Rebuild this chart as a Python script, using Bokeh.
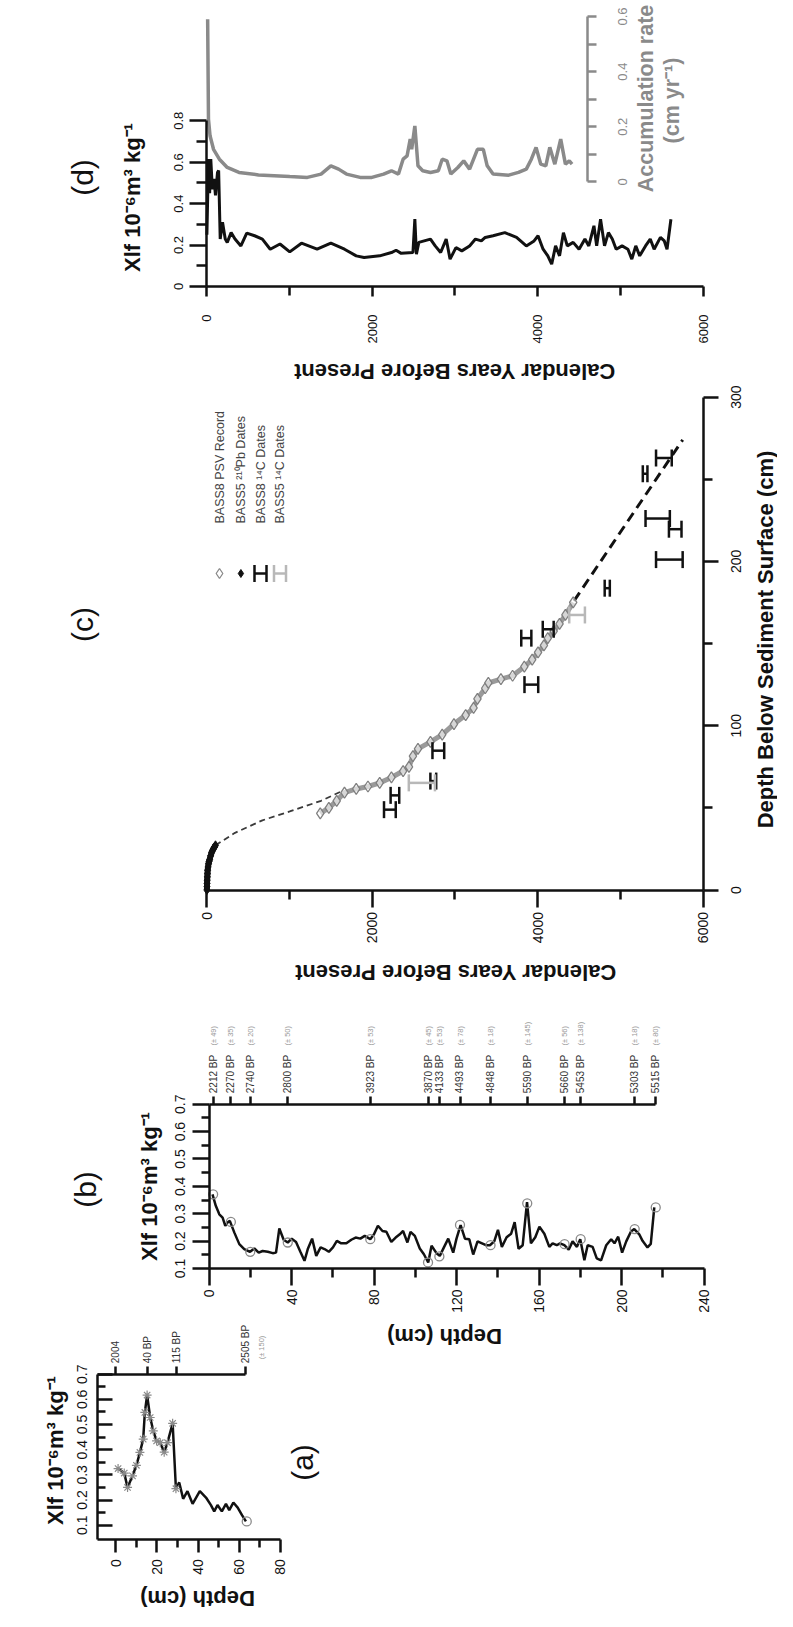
import math
from bokeh.plotting import figure
from bokeh.models import Range1d, LinearAxis, FixedTicker, Label
from bokeh.layouts import column
from bokeh.embed import file_html
from bokeh.resources import INLINE

FONT = "Liberation Sans"
W = 777
INK = "#111111"
GREY = "#8a8a8a"
LIGHT = "#b8b8b8"

# ---------------- data ----------------
# (a) BASS5 core: depth (cm) vs Xlf
a_depth = [1.1, 4.1, 5.7, 8.1, 10.0, 11.7, 13.3, 14.1, 15.2, 16.7, 18.2, 19.8, 21.6, 23.5, 25.1, 27.6, 29.2,
           30.8, 32.7, 34.8, 37.3, 40.8, 43.8, 46.2, 47.8, 49.4, 51.5, 53.5, 55.1, 57.1, 59.2, 61.3, 63.2]
a_xlf = [0.325, 0.307, 0.25, 0.296, 0.338, 0.389, 0.442, 0.548, 0.617, 0.528, 0.475, 0.435, 0.428, 0.39, 0.428,
         0.505, 0.245, 0.27, 0.205, 0.235, 0.185, 0.235, 0.21, 0.18, 0.155, 0.18, 0.155, 0.185, 0.16, 0.19, 0.17,
         0.14, 0.115]
a_mark_depth = a_depth[:17]
a_mark_xlf = a_xlf[:17]
a_end_depth = [63.6]
a_end_xlf = [0.115]
a_date_depth = [0, 15.4, 29.3, 63.1]
a_date_label = ["2004", "40 BP", "115 BP", "2505 BP"]
a_date_err = "(\u00b1 150)"

# (b) BASS8 core
b_depth = [1.6, 3.2, 4.9, 6.5, 7.8, 8.9, 10.0, 12.2, 14.6, 17.0,
           19.8, 21.9, 24.0, 25.9, 28.4, 30.8, 32.4, 34.0, 36.1, 38.1,
           40.0, 42.1, 44.2, 46.2, 47.8, 49.9, 51.9, 54.0, 55.9, 58.0,
           60.0, 61.9, 64.0, 66.5, 68.9, 71.0, 73.3, 75.4, 78.1, 79.9,
           81.8, 84.0, 85.9, 88.3, 90.4, 92.4, 94.0, 96.1, 97.6, 99.7,
           102.1, 104.1, 106.2, 107.8, 110.2, 111.8, 113.8, 115.9, 118.3, 119.9,
           121.9, 124.0, 126.1, 128.0, 130.1, 134.2, 136.1, 138.2, 140.0, 141.9,
           144.2, 146.4, 148.1, 150.0, 152.0, 154.1, 156.0, 158.1, 160.1, 162.5,
           164.9, 166.5, 168.5, 170.1, 172.2, 174.3, 176.2, 178.3, 179.9, 181.9,
           183.5, 185.9, 187.9, 190.0, 192.5, 194.9, 196.5, 198.3, 200.2, 202.2,
           204.5, 206.1, 208.5, 210.1, 212.5, 214.1, 215.8]
b_xlf = [0.371, 0.329, 0.298, 0.286, 0.256, 0.268, 0.274, 0.231, 0.189, 0.171,
         0.161, 0.173, 0.158, 0.164, 0.161, 0.156, 0.158, 0.246, 0.205, 0.195,
         0.209, 0.197, 0.161, 0.128, 0.171, 0.209, 0.146, 0.177, 0.171, 0.161,
         0.177, 0.201, 0.192, 0.192, 0.205, 0.213, 0.209, 0.219, 0.207, 0.225,
         0.256, 0.237, 0.234, 0.197, 0.213, 0.225, 0.237, 0.195, 0.234, 0.219,
         0.173, 0.152, 0.122, 0.183, 0.156, 0.146, 0.177, 0.209, 0.158, 0.209,
         0.258, 0.209, 0.207, 0.151, 0.199, 0.185, 0.185, 0.199, 0.241, 0.179,
         0.214, 0.227, 0.269, 0.172, 0.185, 0.342, 0.192, 0.214, 0.253, 0.227,
         0.179, 0.192, 0.185, 0.192, 0.185, 0.169, 0.199, 0.179, 0.207, 0.130,
         0.185, 0.179, 0.137, 0.130, 0.185, 0.207, 0.192, 0.216, 0.158, 0.199,
         0.235, 0.244, 0.225, 0.201, 0.177, 0.190, 0.323]
b_date_depth = [1.9, 10.5, 19.9, 38.1, 78.1, 106.1, 111.6, 121.6, 136.4, 154.2, 172.3, 180.1, 206.3, 216.5]
b_date_label = ["2212 BP", "2270 BP", "2740 BP", "2800 BP", "3923 BP", "3870 BP", "4133 BP",
                "4493 BP", "4848 BP", "5590 BP", "5660 BP", "5453 BP", "5303 BP", "5515 BP"]
b_date_err = ["(\u00b1 49)", "(\u00b1 35)", "(\u00b1 20)", "(\u00b1 50)", "(\u00b1 53)", "(\u00b1 45)",
              "(\u00b1 53)", "(\u00b1 78)", "(\u00b1 18)", "(\u00b1 145)", "(\u00b1 56)", "(\u00b1 138)",
              "(\u00b1 18)", "(\u00b1 80)"]
b_date_xlf = [0.371, 0.27, 0.161, 0.195, 0.207, 0.122, 0.144, 0.259, 0.185, 0.338, 0.189, 0.207, 0.244, 0.323]

# (c) age model: calendar years BP vs depth below sediment surface (cm)
c_pb_year = [0, 1, 2, 3, 5, 7, 9, 14, 20, 26, 33, 45, 57, 68, 80, 92, 104]
c_pb_depth = [0, 2, 4, 6, 8, 10, 12, 14, 16, 17.3, 18.5, 20.8, 22.8, 24, 25.2, 26.2, 27.2]
c_link_year = [104, 340, 671, 1002, 1381, 1617]
c_link_depth = [27.2, 34.8, 42.4, 47.8, 54.3, 59.8]
c_psv_year = [1371, 1475, 1570, 1664, 1806, 1948, 2090, 2232, 2373, 2444, 2492, 2553, 2704, 2846, 2988, 3130,
              3225, 3272, 3366, 3404, 3556, 3697, 3839, 3934, 4005, 4076, 4123, 4194, 4265, 4336, 4430]
c_psv_depth = [46.7, 50, 54.3, 59.3, 61.5, 63, 65.2, 68.5, 72.4, 75, 81.5, 85.9, 90.2, 94.6, 101, 106.5,
               110.9, 116.3, 122.8, 126, 128.3, 130.4, 135.9, 140.2, 144.6, 148.9, 153.3, 157.6, 162, 167.4, 175]
c_ext_year = [4440, 5755]
c_ext_depth = [176, 274]
c_b8_year = [2213, 2274, 2738, 2799, 3924, 3863, 4128, 4842, 5593, 5664, 5452, 5300, 5527]
c_b8_depth = [48.9, 57.6, 66.3, 84.8, 125.0, 153.3, 158.7, 183.7, 201.1, 219.6, 226.1, 253.3, 263.0]
c_b8_err = [71, 52, 35, 71, 83, 61, 66, 31, 161, 76, 147, 28, 95]
c_b5_year = [2600, 4477]
c_b5_depth = [65.2, 167.4]
c_b5_err = [158, 95]
c_legend = ["BASS8 PSV Record", "BASS5 \u00b2\u00b9\u2070Pb Dates", "BASS8 \u00b9\u2074C Dates", "BASS5 \u00b9\u2074C Dates"]

# (d) Xlf and accumulation rate vs calendar years
d_year = [0, 19, 33, 47, 66, 85, 104, 128, 142, 161, 189, 222, 246, 293, 340, 411, 482, 577, 671, 766,
          884, 1002, 1144, 1333, 1499, 1664, 1806, 1901, 2090, 2232, 2288, 2350, 2492, 2515, 2534, 2563,
          2704, 2761, 2827, 2894, 2941, 3012, 3083, 3177, 3248, 3319, 3366, 3461, 3603, 3745, 3863, 3957,
          4005, 4066, 4123, 4170, 4217, 4265, 4312, 4359, 4430, 4501, 4572, 4619, 4681, 4714, 4761, 4809,
          4856, 4903, 4950, 5021, 5092, 5139, 5187, 5234, 5305, 5362, 5409, 5485, 5532, 5565, 5612]
d_xlf = [0.25, 0.615, 0.45, 0.615, 0.47, 0.52, 0.44, 0.55, 0.56, 0.229, 0.31, 0.229, 0.213, 0.26, 0.229,
         0.196, 0.258, 0.245, 0.229, 0.18, 0.205, 0.167, 0.209, 0.18, 0.209, 0.18, 0.148, 0.14, 0.148, 0.164,
         0.175, 0.16, 0.164, 0.325, 0.156, 0.213, 0.229, 0.196, 0.164, 0.229, 0.132, 0.188, 0.172, 0.196,
         0.229, 0.22, 0.237, 0.245, 0.26, 0.237, 0.196, 0.22, 0.245, 0.18, 0.148, 0.108, 0.196, 0.148, 0.26,
         0.196, 0.213, 0.18, 0.229, 0.196, 0.293, 0.196, 0.325, 0.196, 0.26, 0.229, 0.18, 0.196, 0.18, 0.132,
         0.196, 0.148, 0.196, 0.229, 0.18, 0.237, 0.22, 0.18, 0.325]
d_acc_year = [9, 19, 38, 80, 151, 246, 388, 624, 1002, 1215, 1381, 1499, 1593, 1688, 1853, 1995, 2137, 2232,
              2317, 2373, 2421, 2459, 2477, 2515, 2553, 2610, 2704, 2799, 2846, 2903, 2950, 3035, 3106, 3177,
              3272, 3343, 3390, 3461, 3650, 3768, 3863, 3924, 3981, 4038, 4099, 4147, 4208, 4279, 4336, 4383, 4416]
d_acc = [0.59, 0.227, 0.167, 0.118, 0.082, 0.052, 0.034, 0.025, 0.019, 0.016, 0.028, 0.058, 0.046, 0.028,
         0.016, 0.016, 0.028, 0.04, 0.028, 0.082, 0.094, 0.155, 0.118, 0.203, 0.058, 0.04, 0.034, 0.04, 0.082,
         0.076, 0.028, 0.052, 0.076, 0.046, 0.118, 0.118, 0.058, 0.028, 0.024, 0.034, 0.046, 0.082, 0.125,
         0.064, 0.058, 0.125, 0.064, 0.155, 0.064, 0.076, 0.064]

XLF = "Xlf 10\u207b\u2076m\u00b3 kg\u207b\u00b9"
YEARS = "Calendar Years Before Present"

# Each figure's frame fills its whole canvas; every axis sits at a fixed data location.
X_LEFT, X_RIGHT = 8, 8 + W


def lin_range(P0, v0, P1, v1, lo_px, hi_px):
    """data range whose ends sit at page pixels lo_px / hi_px, given two (pixel, value) pairs"""
    s = (P1 - P0) / (v1 - v0)
    return (v0 + (lo_px - P0) / s, v0 + (hi_px - P0) / s)


class Panel:
    def __init__(self, top, h, xref, yref):
        self.top, self.h = top, h
        self.xr = lin_range(xref[0][0], xref[0][1], xref[1][0], xref[1][1], X_LEFT, X_RIGHT)
        self.yr = lin_range(yref[0][0], yref[0][1], yref[1][0], yref[1][1], top + h, top)
        p = figure(width=W, height=h, output_backend="svg", toolbar_location=None,
                   x_range=Range1d(*self.xr), y_range=Range1d(*self.yr),
                   x_axis_location=None, y_axis_location=None,
                   min_border_left=0, min_border_right=0, min_border_top=0, min_border_bottom=0)
        p.outline_line_color = None
        p.background_fill_color = "white"
        p.border_fill_color = "white"
        p.grid.visible = False
        self.p = p

    def dx(self, X):
        return self.xr[0] + (X - X_LEFT) / W * (self.xr[1] - self.xr[0])

    def dy(self, Y):
        return self.yr[0] + (self.top + self.h - Y) / self.h * (self.yr[1] - self.yr[0])

    def label(self, X, Y, text, size=22, bold=True, angle=math.pi / 2, color=INK,
              align="center", baseline="middle", x=None, y=None, **kw):
        self.p.add_layout(Label(x=self.dx(X) if x is None else x, y=self.dy(Y) if y is None else y,
                                text=text, angle=angle, text_font=FONT, text_font_size=f"{size}px",
                                text_font_style="bold" if bold else "normal",
                                text_color=color, text_align=align, text_baseline=baseline, **kw))

    def axis(self, side, at, ticks, minor=(), labels=None, out=12, minor_out=8, tin=0, minor_in=0,
             orient="vertical", size=14, standoff=5, color=INK, label_color=None, bounds=None,
             width=2.5, **kw):
        ax = LinearAxis(ticker=FixedTicker(ticks=list(ticks), minor_ticks=list(minor)),
                        fixed_location=at, **kw)
        ax.major_tick_out = out
        ax.minor_tick_out = minor_out
        ax.major_tick_in = tin
        ax.minor_tick_in = minor_in
        ax.major_label_orientation = orient
        ax.major_label_text_font = FONT
        ax.major_label_text_font_size = f"{size}px"
        ax.major_label_text_color = label_color or color
        ax.major_label_standoff = standoff
        for k in ("axis_line", "major_tick_line", "minor_tick_line"):
            setattr(ax, k + "_width", width)
            setattr(ax, k + "_color", color)
        if labels is not None:
            ax.major_label_overrides = {float(t): l for t, l in zip(ticks, labels)}
        if bounds is not None:
            ax.bounds = bounds
        self.p.add_layout(ax, side)
        return ax


# ---------------- panel (d) ----------------
D = Panel(8, 384, ((214.4, 0), (710.5, 6000)), ((294, 0), (128.3, 0.8)))
acc_r = lin_range(189.3, 0, 24, 0.6, 8 + 384, 8)
D.p.extra_y_ranges = {"acc": Range1d(*acc_r)}
D.axis("below", 0, [0, 2000, 4000, 6000], [1000, 3000, 5000], out=10, minor_out=9,
       orient=math.pi / 2, size=13, standoff=18, bounds=(0, 6000))
D.axis("left", 0, [0, 0.2, 0.4, 0.6, 0.8], [0.1, 0.3, 0.5, 0.7], labels=["0", "0.2", "0.4", "0.6", "0.8"],
       out=17, minor_out=10, size=13, standoff=7, bounds=(0, 0.8))
acc_ticks = [0, 0.2, 0.4, 0.6]
D.axis("right", 4605, acc_ticks, [0.1, 0.3, 0.5], labels=["", "", "", ""], out=9, minor_out=9,
       color=GREY, bounds=(0, 0.6), y_range_name="acc", size=1)
D.p.line(d_year, d_xlf, line_color=INK, line_width=3)
D.p.line(d_acc_year, d_acc, line_color=GREY, line_width=3.5, y_range_name="acc")
for t, s in zip(acc_ticks, ["0", "0.2", "0.4", "0.6"]):
    D.label(630, 0, s, size=13, bold=False, color=GREY, y=t, y_range_name="acc")
D.label(90, 185, "(d)", size=30, bold=False)
D.label(140, 205, XLF)
D.label(462, 379, YEARS, angle=math.pi)
D.label(653, 106, "Accumulation rate", size=21.5, color=GREY)
D.label(679, 108, "(cm yr\u207b\u00b9)", size=21.5, color=GREY)

# ---------------- panel (c) ----------------
C = Panel(392, 608, ((214.4, 0), (710.5, 6000)), ((897.5, 0), (404.6, 300)))
C.axis("below", 0, [0, 2000, 4000, 6000], [1000, 3000, 5000], out=17, minor_out=9,
       orient=math.pi / 2, size=14, standoff=5, bounds=(0, 6000))
dep_ticks = [0, 100, 200, 300]
C.axis("right", 6000, dep_ticks, [50, 150, 250], labels=["", "", "", ""], out=15, minor_out=9, size=1,
       bounds=(0, 300))
for t in dep_ticks:
    C.label(743, 0, str(t), size=14, bold=False, y=t)
pc = C.p
pc.line(c_link_year, c_link_depth, line_color="#3a3a3a", line_width=1.8, line_dash="6 4")
pc.line(c_ext_year, c_ext_depth, line_color=INK, line_width=3, line_dash="10 6")
pc.line(c_pb_year, c_pb_depth, line_color=INK, line_width=6)
pc.scatter(c_pb_year, c_pb_depth, marker="diamond", size=9, fill_color=INK, line_color=INK)
pc.line(c_psv_year, c_psv_depth, line_color="#9a9a9a", line_width=5)
pc.scatter(c_psv_year, c_psv_depth, marker="diamond", size=11, fill_color="white", fill_alpha=0.6,
           line_color="#7f7f7f", line_width=1.3)


def hbars(p, yrs, deps, errs, color):
    lo = [y - e for y, e in zip(yrs, errs)]
    hi = [y + e for y, e in zip(yrs, errs)]
    p.segment(x0=lo, y0=deps, x1=hi, y1=deps, line_color=color, line_width=2.5)
    p.scatter(x=lo + hi, y=list(deps) * 2, marker="dash", angle=math.pi / 2, size=17,
              line_color=color, line_width=2.5)


hbars(pc, c_b8_year, c_b8_depth, c_b8_err, INK)
hbars(pc, c_b5_year, c_b5_depth, c_b5_err, LIGHT)

# legend (rotated, drawn by hand)
leg_x = [227, 248.4, 268, 287.5]
my = C.dy(581)
pc.scatter([C.dx(leg_x[0])], [my], marker="diamond", size=10, fill_color="white", line_color=GREY, line_width=1.3)
pc.scatter([C.dx(leg_x[1])], [my], marker="diamond", size=8, fill_color=INK, line_color=INK)
half = 6 / 496 * 6000
hbars(pc, [C.dx(leg_x[2])], [my], [half], INK)
hbars(pc, [C.dx(leg_x[3])], [my], [half], LIGHT)
for X, s in zip(leg_x, c_legend):
    C.label(X, 531, s, size=12.5, bold=False, color="#444444", align="left")
C.label(90, 632, "(c)", size=30, bold=False)
C.label(773, 647, "Depth Below Sediment Surface (cm)")
C.label(463, 980, YEARS, angle=math.pi)

# ---------------- panel (b) ----------------
B = Panel(1000, 324, ((216.7, 0), (711.7, 240)), ((1276, 0.1), (1111.7, 0.7)))
B.axis("below", 0.1, list(range(0, 241, 40)), list(range(20, 241, 40)), out=17, minor_out=9,
       orient=math.pi / 2, size=14, standoff=4, bounds=(0, 240))
B.axis("left", 0, [0.1, 0.2, 0.3, 0.4, 0.5, 0.6, 0.7], [0.15, 0.25, 0.35, 0.45, 0.55, 0.65],
       out=17, minor_out=8, size=14, standoff=7, bounds=(0.1, 0.7))
B.axis("above", 0.7, b_date_depth, labels=b_date_label, out=8, minor_out=0, size=10, standoff=3,
       label_color="#333333", bounds=(0, 216.5))
for dd, s in zip(b_date_depth, b_date_err):
    B.label(0, 1053, s, size=7.5, bold=False, color="#999999", align="left", x=dd)
B.p.line(b_depth, b_xlf, line_color=INK, line_width=2.5)
B.p.scatter(b_date_depth, b_date_xlf, marker="circle", size=9, fill_color=None, line_color=GREY, line_width=1.3)
B.label(93, 1197, "(b)", size=30, bold=False)
B.label(157, 1194, XLF)

# ---------------- panel (a) ----------------
A = Panel(1324, 295, ((105, -8.9), (288, 80)), ((1532.7, 0.1), (1381.7, 0.7)))
a_bottom = A.dy(1546.7)
A.axis("below", a_bottom, [0, 20, 40, 60, 80], [10, 30, 50, 70], out=13, minor_out=8,
       orient=math.pi / 2, size=14, standoff=7, bounds=(-8.9, 80))
A.axis("left", -8.9, [0.1, 0.2, 0.3, 0.4, 0.5, 0.6, 0.7], [0.15, 0.25, 0.35, 0.45, 0.55, 0.65],
       out=0, minor_out=0, tin=15, minor_in=8, size=14, standoff=10, bounds=(a_bottom, 0.7))
A.axis("above", 0.7, a_date_depth, labels=a_date_label, out=8, minor_out=0, size=10, standoff=3,
       label_color="#333333", bounds=(-8.9, 63.1))
A.p.line(a_depth, a_xlf, line_color=INK, line_width=2.5)
A.p.scatter(a_mark_depth, a_mark_xlf, marker="asterisk", size=9, line_color=GREY, line_width=1.2)
A.p.scatter(a_end_depth, a_end_xlf, marker="circle", size=9, fill_color=None, line_color=GREY, line_width=1.3)
A.label(269, 1355, a_date_err, size=7.5, bold=False, color="#999999")
A.label(310, 1470, "(a)", size=30, bold=False)
A.label(63, 1458, XLF)
A.label(205, 1606, "Depth (cm)", angle=math.pi)
A.label(452, 1344, "Depth (cm)", angle=math.pi)   # x-axis title of panel (b)

layout = column(D.p, C.p, B.p, A.p)
open("out.html", "w").write(file_html(layout, INLINE))
